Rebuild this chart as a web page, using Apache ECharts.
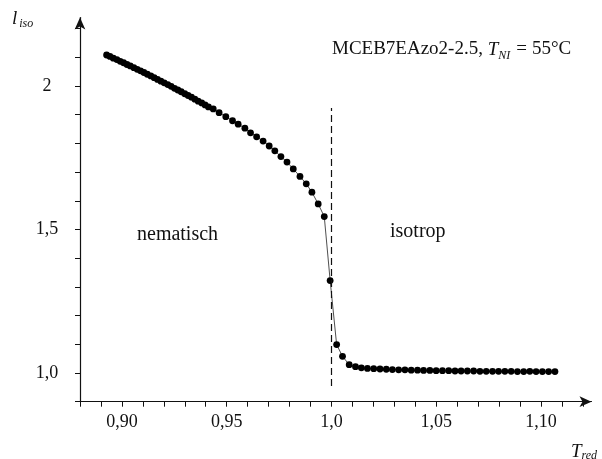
<!DOCTYPE html>
<html>
<head>
<meta charset="utf-8">
<script src="https://cdn.jsdelivr.net/npm/echarts@6/dist/echarts.min.js"></script>
<style>
html,body{margin:0;padding:0;background:#fff;}
#c{width:602px;height:459px;}
</style>
</head>
<body>
<div id="c"></div>
<script>
// ---- data ----
const tRed = [
  0.8927, 0.8943, 0.8959, 0.8976, 0.8992, 0.9008, 0.9024, 0.9040, 0.9057, 0.9073,
  0.9089, 0.9105, 0.9121, 0.9138, 0.9154, 0.9170, 0.9186, 0.9202, 0.9219, 0.9235,
  0.9251, 0.9267, 0.9283, 0.9300, 0.9316, 0.9332, 0.9348, 0.9364, 0.9381, 0.9397,
  0.9413,
  0.9436, 0.9464, 0.9496, 0.9528, 0.9555, 0.9587, 0.9614, 0.9643, 0.9674, 0.9703,
  0.9730, 0.9759, 0.9788, 0.9818, 0.9850, 0.9880, 0.9907, 0.9937, 0.9966,
  0.9994, 1.0025, 1.0053, 1.0085, 1.0115, 1.0143,
  1.0172, 1.0202, 1.0232, 1.0262, 1.0291, 1.0321, 1.0351, 1.0381, 1.0411, 1.0440,
  1.0470, 1.0500, 1.0530, 1.0560, 1.0590, 1.0619, 1.0649, 1.0679, 1.0709, 1.0739,
  1.0769, 1.0798, 1.0828, 1.0858, 1.0888, 1.0918, 1.0947, 1.0977, 1.1007, 1.1037,
  1.1067
];
const lIso = [
  2.108, 2.103, 2.097, 2.092, 2.086, 2.081, 2.075, 2.070, 2.064, 2.058,
  2.053, 2.047, 2.041, 2.035, 2.029, 2.023, 2.017, 2.011, 2.005, 1.999,
  1.992, 1.986, 1.980, 1.973, 1.967, 1.961, 1.954, 1.947, 1.941, 1.934,
  1.927,
  1.920, 1.907, 1.893, 1.879, 1.867, 1.853, 1.837, 1.823, 1.808, 1.791,
  1.774, 1.754, 1.735, 1.711, 1.685, 1.659, 1.630, 1.589, 1.545,
  1.322, 1.099, 1.058, 1.029, 1.022, 1.018,
  1.016, 1.015, 1.014, 1.013, 1.012, 1.011, 1.011, 1.010, 1.010, 1.009,
  1.009, 1.008, 1.008, 1.008, 1.007, 1.007, 1.007, 1.007, 1.006, 1.006,
  1.006, 1.006, 1.006, 1.006, 1.005, 1.005, 1.006, 1.005, 1.005, 1.005,
  1.005
];
const xTickValues = [0.90, 0.95, 1.00, 1.05, 1.10];
const xTickLabels = ['0,90', '0,95', '1,0', '1,05', '1,10'];
const yTickValues = [1.0, 1.5, 2.0];
const yTickLabels = ['1,0', '1,5', '2'];
const transitionT = 1.0;
const transitionSpan = [0.955, 1.923];

const FONT = '"Liberation Serif", "DejaVu Serif", serif';
const INK = '#111';

function lookup(vals, labels, v) {
  for (let i = 0; i < vals.length; i++) {
    if (Math.abs(vals[i] - v) < 1e-6) return labels[i];
  }
  return '';
}

const chart = echarts.init(document.getElementById('c'), null, {renderer: 'canvas'});

const option = {
  animation: false,
  backgroundColor: '#fff',
  grid: [
    {left: 80, top: 17.5, width: 511.5, height: 384.2, containLabel: false, outerBoundsMode: 'none'},
    {left: 80, top: 28.6, width: 502.8, height: 373.1, containLabel: false, outerBoundsMode: 'none'}
  ],
  xAxis: [
    {
      type: 'value', gridIndex: 0, min: 0.88, max: 1.12415,
      axisLine: {show: true, onZero: false, lineStyle: {color: INK, width: 1.2},
        symbol: ['none', 'arrow'], symbolSize: [8, 12]},
      axisTick: {show: false}, axisLabel: {show: false}, splitLine: {show: false}
    },
    {
      type: 'value', gridIndex: 1, min: 0.88, max: 1.12, interval: 0.01,
      axisLine: {show: false, onZero: false},
      axisTick: {show: true, length: 5, lineStyle: {color: INK, width: 1}},
      axisLabel: {
        show: true, margin: 12, color: INK, fontFamily: FONT, fontSize: 18,
        formatter: v => lookup(xTickValues, xTickLabels, Math.round(v * 100) / 100)
      },
      splitLine: {show: false}
    }
  ],
  yAxis: [
    {
      type: 'value', gridIndex: 0, min: 0.9, max: 2.2387,
      axisLine: {show: true, onZero: false, lineStyle: {color: INK, width: 1.2},
        symbol: ['none', 'arrow'], symbolSize: [8, 12]},
      axisTick: {show: false}, axisLabel: {show: false}, splitLine: {show: false}
    },
    {
      type: 'value', gridIndex: 1, min: 0.9, max: 2.2, interval: 0.1,
      axisLine: {show: false, onZero: false},
      axisTick: {show: true, length: 5, lineStyle: {color: INK, width: 1}},
      axisLabel: {
        show: true, margin: 33, align: 'center', color: INK, fontFamily: FONT, fontSize: 18,
        formatter: v => lookup(yTickValues, yTickLabels, Math.round(v * 10) / 10)
      },
      splitLine: {show: false}
    }
  ],
  series: [
    {
      type: 'line', xAxisIndex: 0, yAxisIndex: 0,
      data: tRed.map((t, i) => [t, lIso[i]]),
      symbol: 'circle', symbolSize: 6.8, showSymbol: true,
      itemStyle: {color: '#000'},
      lineStyle: {color: '#222', width: 0.8},
      markLine: {
        silent: true, symbol: 'none', label: {show: false},
        lineStyle: {color: INK, width: 1.2, type: [7, 4]},
        data: [[{coord: [transitionT, transitionSpan[0]]}, {coord: [transitionT, transitionSpan[1]]}]]
      }
    }
  ],
  graphic: [
    {
      type: 'text', left: 12, top: 9,
      style: {
        text: '{l|l}{s|iso}', fontFamily: FONT,
        rich: {
          l: {fontSize: 19, fontStyle: 'italic', fontFamily: FONT, fill: INK, lineHeight: 19, verticalAlign: 'top'},
          s: {fontSize: 12, fontStyle: 'italic', fontFamily: FONT, fill: INK, lineHeight: 12, padding: [9, 0, 0, 2], verticalAlign: 'top'}
        }
      }
    },
    {
      type: 'text', left: 571, top: 442,
      style: {
        text: '{t|T}{s|red}', fontFamily: FONT,
        rich: {
          t: {fontSize: 19, fontStyle: 'italic', fontFamily: FONT, fill: INK, lineHeight: 19, verticalAlign: 'top'},
          s: {fontSize: 12, fontStyle: 'italic', fontFamily: FONT, fill: INK, lineHeight: 12, padding: [8, 0, 0, 0], verticalAlign: 'top'}
        }
      }
    },
    {
      type: 'text', left: 332, top: 40,
      style: {
        text: '{m|MCEB7EAzo2-2.5, }{t|T}{s|NI}{eq|=}{m|55°C}', fontFamily: FONT,
        rich: {
          m: {fontSize: 19, fontFamily: FONT, fill: INK, lineHeight: 19, verticalAlign: 'top'},
          eq: {fontSize: 19, fontFamily: FONT, fill: INK, lineHeight: 19, verticalAlign: 'top', padding: [0, 5, 0, 6]},
          t: {fontSize: 19, fontStyle: 'italic', fontFamily: FONT, fill: INK, lineHeight: 19, verticalAlign: 'top'},
          s: {fontSize: 12, fontStyle: 'italic', fontFamily: FONT, fill: INK, lineHeight: 12, padding: [10, 0, 0, 0], verticalAlign: 'top'}
        }
      }
    },
    {
      type: 'text', left: 137, top: 225,
      style: {text: 'nematisch', fontSize: 20, fontFamily: FONT, fill: INK}
    },
    {
      type: 'text', left: 390, top: 222,
      style: {text: 'isotrop', fontSize: 20, fontFamily: FONT, fill: INK}
    }
  ]
};
chart.setOption(option);
</script>
</body>
</html>
